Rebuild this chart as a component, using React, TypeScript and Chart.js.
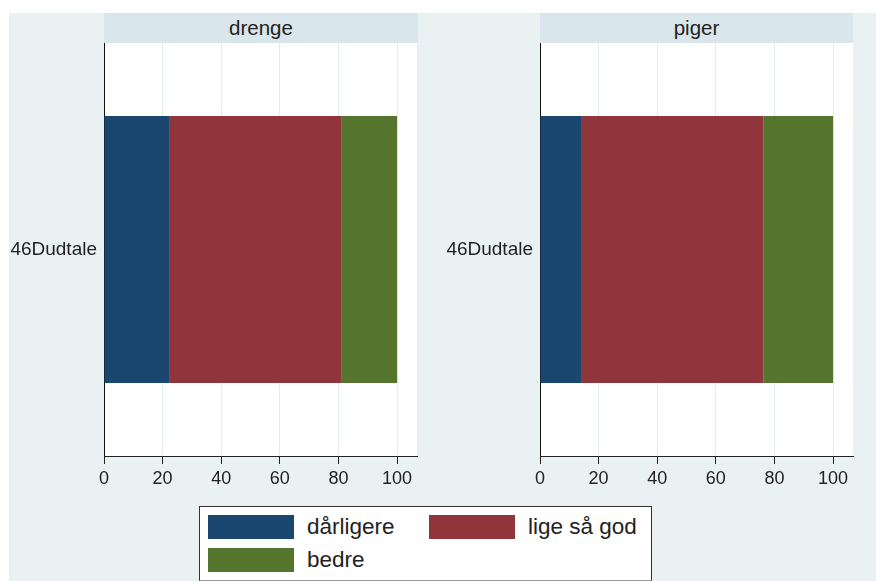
import React, { useEffect, useRef } from "react";
import { Chart, registerables } from "chart.js";

Chart.register(...registerables);

const categories = ["46Dudtale"];
const panelTitles = ["drenge", "piger"];
const seriesNames = ["dårligere", "lige så god", "bedre"];
const seriesColors = ["#1a476f", "#90353b", "#55752f"];
const drengeValues = [22.2, 58.7, 19.1];
const pigerValues = [14.0, 62.3, 23.7];
const xTickValues = [0, 20, 40, 60, 80, 100];
const X_MAX = 106.8;

const FONT = "'Liberation Sans', Arial, sans-serif";
const BG = "#eaf1f3";
const HEADER_BG = "#d9e6ec";

const whiteArea = {
  id: "whiteArea",
  beforeDraw(chart: any) {
    const { ctx, chartArea } = chart;
    ctx.save();
    ctx.fillStyle = "#ffffff";
    ctx.fillRect(chartArea.left, chartArea.top, chartArea.right - chartArea.left, chartArea.bottom - chartArea.top);
    ctx.restore();
  },
};

function Panel({ values, left }: { values: number[]; left: number }) {
  const ref = useRef<HTMLCanvasElement | null>(null);
  useEffect(() => {
    if (!ref.current) return;
    const chart = new Chart(ref.current, {
      type: "bar",
      data: {
        labels: categories,
        datasets: seriesNames.map((name, i) => ({
          label: name,
          data: [values[i]],
          backgroundColor: seriesColors[i],
          borderWidth: 0,
          barPercentage: 1,
          categoryPercentage: 0.646,
        })),
      },
      options: {
        indexAxis: "y",
        animation: false,
        responsive: false,
        maintainAspectRatio: false,
        layout: { padding: { left: 0, right: 13, top: 0, bottom: 0 } },
        plugins: { legend: { display: false }, tooltip: { enabled: false } },
        scales: {
          x: {
            stacked: true,
            min: 0,
            max: X_MAX,
            afterBuildTicks: (scale: any) => {
              scale.ticks = xTickValues.map((v) => ({ value: v }));
            },
            afterFit: (scale: any) => {
              scale.height = 34;
            },
            grid: {
              color: "#e3ebef",
              lineWidth: 1,
              drawTicks: true,
              tickLength: 8,
              tickColor: "#222",
            },
            border: { display: true, color: "#222", width: 1 },
            ticks: {
              padding: 4,
              color: "#222",
              font: { family: FONT, size: 18 },
              maxRotation: 0,
              autoSkip: false,
            },
          },
          y: {
            stacked: true,
            afterFit: (scale: any) => {
              scale.width = 104;
              scale.paddingTop = 0;
              scale.paddingBottom = 0;
            },
            grid: { display: true, color: "rgba(0,0,0,0)", drawTicks: false },
            border: { display: true, color: "#111", width: 1 },
            ticks: {
              padding: 7,
              color: "#222",
              font: { family: FONT, size: 19 },
            },
          },
        },
      },
      plugins: [whiteArea],
    });
    return () => chart.destroy();
  }, [values]);
  return (
    <canvas
      ref={ref}
      width={430}
      height={447}
      style={{ position: "absolute", left, top: 43, width: 430, height: 447 }}
    />
  );
}

function Header({ text, left, width }: { text: string; left: number; width: number }) {
  return (
    <div
      style={{
        position: "absolute",
        left,
        top: 13,
        width,
        height: 30,
        background: HEADER_BG,
        color: "#222",
        fontFamily: FONT,
        fontSize: 20.5,
        lineHeight: "30px",
        textAlign: "center",
      }}
    >
      {text}
    </div>
  );
}

function LegendItem({ i, left, top }: { i: number; left: number; top: number }) {
  return (
    <>
      <div
        style={{
          position: "absolute",
          left,
          top,
          width: 86,
          height: 24,
          background: seriesColors[i],
        }}
      />
      <div
        style={{
          position: "absolute",
          left: left + 99,
          top: top - 2,
          height: 28,
          lineHeight: "28px",
          fontFamily: FONT,
          fontSize: 22.5,
          color: "#222",
          whiteSpace: "nowrap",
        }}
      >
        {seriesNames[i]}
      </div>
    </>
  );
}

export default function App() {
  return (
    <div
      style={{
        position: "fixed",
        left: 0,
        top: 0,
        width: 876,
        height: 581,
        background: "#ffffff",
        overflow: "hidden",
      }}
    >
      <div style={{ position: "absolute", left: 9, top: 13, width: 867, height: 568, background: BG }} />
      <Header text={panelTitles[0]} left={104} width={314} />
      <Header text={panelTitles[1]} left={540} width={313} />
      <Panel values={drengeValues} left={0} />
      <Panel values={pigerValues} left={436} />
      <div
        style={{
          position: "absolute",
          left: 199,
          top: 506,
          width: 451,
          height: 73,
          background: "#ffffff",
          borderTop: "1px solid #333",
          borderLeft: "1px solid #333",
          borderRight: "1px solid #333",
          borderBottom: "1px solid #999",
        }}
      />
      <LegendItem i={0} left={208} top={515} />
      <LegendItem i={1} left={429} top={515} />
      <LegendItem i={2} left={208} top={548} />
    </div>
  );
}
